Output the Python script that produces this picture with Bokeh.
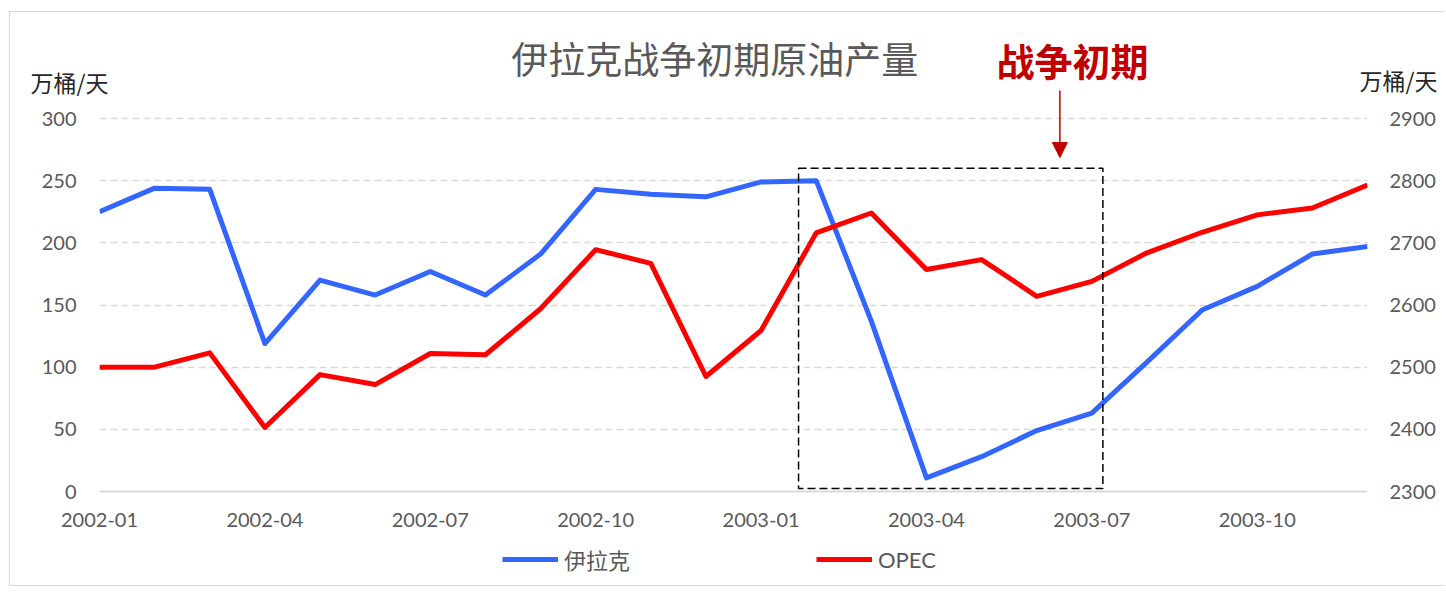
from bokeh.plotting import figure
from bokeh.models import (Range1d, LinearAxis, FixedTicker, Label, Legend, LegendItem,
                          Arrow, NormalHead, Span)
from bokeh.embed import file_html
from bokeh.resources import INLINE

# ---- data ----
months = ["2002-01", "2002-02", "2002-03", "2002-04", "2002-05", "2002-06",
          "2002-07", "2002-08", "2002-09", "2002-10", "2002-11", "2002-12",
          "2003-01", "2003-02", "2003-03", "2003-04", "2003-05", "2003-06",
          "2003-07", "2003-08", "2003-09", "2003-10", "2003-11", "2003-12"]
iraq = [225, 244, 243, 119, 170, 158, 177, 158, 191, 243, 239, 237,
        249, 250, 137, 11, 28, 49, 63, 104, 146, 165, 191, 197]
opec = [2500, 2500, 2523, 2403, 2488, 2472, 2522, 2520, 2594, 2689, 2667, 2485,
        2559, 2716, 2748, 2657, 2673, 2614, 2638, 2684, 2717, 2745, 2756, 2793]
left_ticks = [0, 50, 100, 150, 200, 250, 300]
right_ticks = [2300, 2400, 2500, 2600, 2700, 2800, 2900]
label_every = 3
title_text = "伊拉克战争初期原油产量"
note_text = "战争初期"
unit_text = "万桶/天"
series_names = ["伊拉克", "OPEC"]

x = list(range(len(months)))

W, H = 1436, 575
YTOP, YBOT = 370.78, -73.19
p = figure(width=W, height=H, output_backend="svg", toolbar_location=None,
           x_range=Range1d(0, len(months) - 1), y_range=Range1d(YBOT, YTOP),
           min_border_left=89, min_border_right=79, min_border_top=18,
           min_border_bottom=5)
p.styles = {"border-left": "1px solid #d9d9d9", "border-top": "1px solid #d9d9d9",
            "border-bottom": "1px solid #d9d9d9",
            "margin-left": "9px", "margin-top": "11px"}
p.outline_line_color = None
p.background_fill_color = "white"
p.border_fill_color = "white"
p.extra_y_ranges = {"opec": Range1d(2300 + 2 * YBOT, 2300 + 2 * YTOP)}

tick_font = "Lato"
lab_color = "#595959"
cjk = "'Noto Sans CJK SC'"

def plain_axis(ax, font=tick_font, size="20px", color=lab_color, standoff=20):
    ax.axis_line_color = None
    ax.major_tick_line_color = None
    ax.minor_tick_line_color = None
    ax.major_tick_out = 0
    ax.major_tick_in = 0
    ax.major_label_text_font = font
    ax.major_label_text_font_size = size
    ax.major_label_text_color = color
    ax.major_label_standoff = standoff

# x axis (labels lifted up to sit under the zero line)
xa = p.xaxis[0]
plain_axis(xa, standoff=-70)
xa.ticker = FixedTicker(ticks=x[::label_every])
xa.major_label_overrides = {i: months[i] for i in x[::label_every]}

# left axis
ya = p.yaxis[0]
plain_axis(ya, standoff=23)
ya.ticker = FixedTicker(ticks=left_ticks)

# right axis
ra = LinearAxis(y_range_name="opec", ticker=FixedTicker(ticks=right_ticks))
plain_axis(ra, standoff=22)
p.add_layout(ra, "right")

# unit captions (outer axes carrying one label each)
unit_y = 329.0
lu = LinearAxis(ticker=FixedTicker(ticks=[unit_y]),
                major_label_overrides={unit_y: unit_text})
plain_axis(lu, font=cjk, size="23px", color="#262626", standoff=-70)
p.add_layout(lu, "left")
ru = LinearAxis(ticker=FixedTicker(ticks=[unit_y + 2]),
                major_label_overrides={unit_y + 2: unit_text})
plain_axis(ru, font=cjk, size="23px", color="#262626", standoff=-79)
p.add_layout(ru, "right")

# grid and zero line
p.xgrid.visible = False
p.ygrid.ticker = FixedTicker(ticks=left_ticks[1:])
p.ygrid.grid_line_color = "#d9d9d9"
p.ygrid.grid_line_width = 1.5
p.ygrid.grid_line_dash = "7 4"
p.add_layout(Span(location=left_ticks[0], dimension="width",
                  line_color="#d9d9d9", line_width=2))

# lines
r1 = p.line(x, iraq, line_color="#3366ff", line_width=5, line_join="round")
r2 = p.line(x, opec, line_color="#ff0000", line_width=5, line_join="round",
            y_range_name="opec")

# dashed box
p.quad(left=12.68, right=18.2, bottom=2.4, top=260, fill_color=None,
       line_color="black", line_width=1.5, line_dash="8 4")

# arrow
p.add_layout(Arrow(x_start=17.42, y_start=322.5, x_end=17.42, y_end=268.6,
                   line_color="#c00000", line_width=1.5,
                   end=NormalHead(size=15, fill_color="#c00000", line_color="#c00000")))

p.add_layout(Label(x=11.16, y=348.3, text=title_text, text_align="center",
                   text_baseline="middle", text_font=cjk, text_font_size="37px",
                   text_color="#595959"))
p.add_layout(Label(x=17.65, y=347.5, text=note_text, text_align="center",
                   text_baseline="middle", text_font=cjk, text_font_size="38px",
                   text_font_style="bold", text_color="#c00000"))

legend = Legend(items=[LegendItem(label=series_names[0], renderers=[r1]),
                       LegendItem(label=series_names[1], renderers=[r2])],
                orientation="horizontal", location=(403, 7),
                glyph_width=56, glyph_height=20, label_height=20, label_width=90,
                label_standoff=6, spacing=162, padding=0, margin=0,
                border_line_color=None, background_fill_alpha=0,
                label_text_font="Lato, 'Noto Sans CJK SC'",
                label_text_font_size="22px", label_text_color=lab_color)
p.add_layout(legend, "center")

open("out.html", "w").write(file_html(p, INLINE))
